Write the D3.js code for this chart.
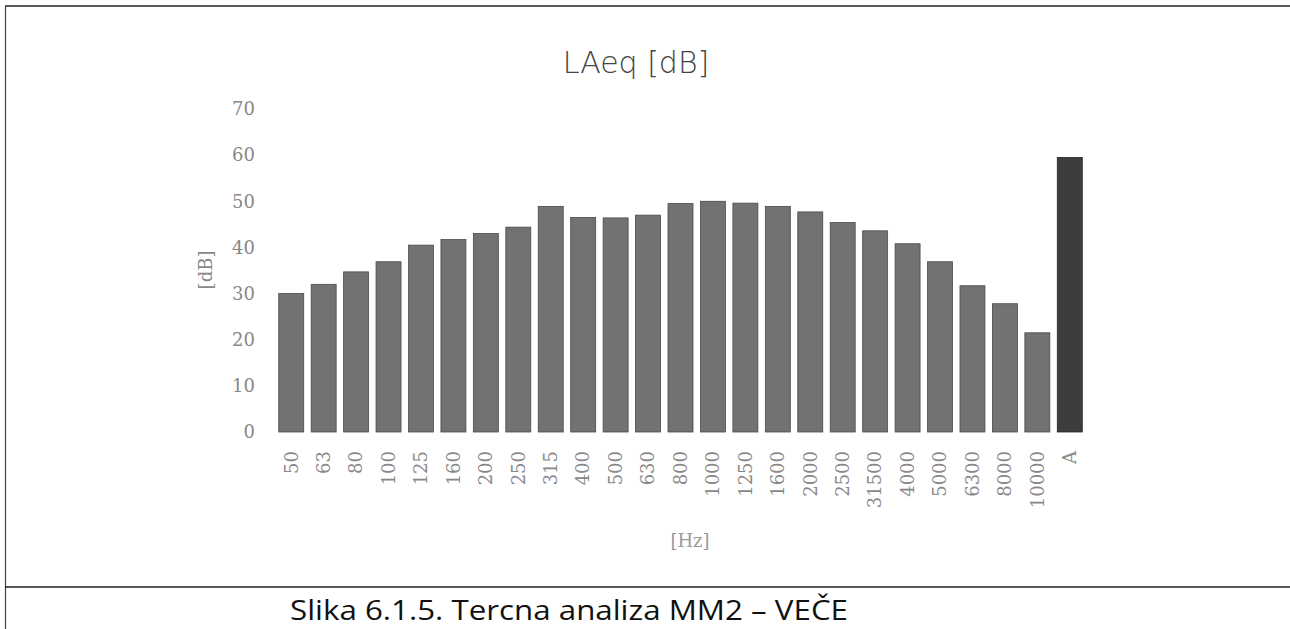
<!DOCTYPE html>
<html>
<head>
<meta charset="utf-8">
<script src="https://cdn.jsdelivr.net/npm/d3@7"></script>
<style>
  body { margin: 0; background: white; }
</style>
</head>
<body>
<div class="mainVis"></div>
<script>
var bands = ["50", "63", "80", "100", "125", "160", "200", "250", "315", "400", "500", "630",
    "800", "1000", "1250", "1600", "2000", "2500", "31500", "4000", "5000", "6300", "8000", "10000", "A"]
var levels = [30.0, 32.0, 34.7, 36.9, 40.5, 41.7, 43.0, 44.4, 48.9, 46.5, 46.4, 47.0,
    49.5, 50.0, 49.6, 48.9, 47.7, 45.4, 43.6, 40.8, 36.9, 31.7, 27.8, 21.5, 59.5]
var yTicks = [0, 10, 20, 30, 40, 50, 60, 70]

var width = 1290, height = 629

var canvas = d3.select(".mainVis")
    .append("svg")
    .attr("width", width)
    .attr("height", height)

// frame lines from the scanned page
canvas.append("line").attr("x1", 5).attr("x2", width).attr("y1", 6).attr("y2", 6)
    .attr("stroke", "#222").attr("stroke-width", 1.5)
canvas.append("line").attr("x1", 5.5).attr("x2", 5.5).attr("y1", 6).attr("y2", height)
    .attr("stroke", "#444").attr("stroke-width", 1.2)
canvas.append("line").attr("x1", 5).attr("x2", width).attr("y1", 587).attr("y2", 587)
    .attr("stroke", "#222").attr("stroke-width", 1.5)

var x = d3.scaleBand()
    .domain(bands)
    .range([275, 1086])
    .paddingInner(0.23)
    .paddingOuter(0.115)

var y = d3.scaleLinear()
    .domain([0, 70])
    .range([432, 109])

var labelFont = "'DejaVu Serif', serif"

canvas.append("text")
    .attr("x", 636)
    .attr("y", 73)
    .attr("text-anchor", "middle")
    .style("font-family", "'DejaVu Sans', sans-serif")
    .style("font-weight", "200")
    .style("font-size", "30px")
    .attr("fill", "#444")
    .text("LAeq [dB]")

var yAxis = canvas.append("g")
    .attr("transform", "translate(255,0)")
    .call(d3.axisLeft(y).tickValues(yTicks).tickSize(0).tickPadding(0))
yAxis.select(".domain").remove()
yAxis.selectAll("text")
    .style("font-family", labelFont)
    .style("font-size", "18px")
    .attr("fill", "#888")

var xAxis = canvas.append("g")
    .attr("transform", "translate(0,436)")
    .call(d3.axisBottom(x).tickSize(0).tickPadding(0))
xAxis.select(".domain").remove()
xAxis.selectAll("text")
    .attr("transform", "rotate(-90)")
    .attr("text-anchor", "end")
    .attr("x", -15)
    .attr("y", 0)
    .attr("dy", "0.35em")
    .style("font-family", labelFont)
    .style("font-size", "18px")
    .attr("fill", "#888")

canvas.append("text")
    .attr("transform", "translate(212,270) rotate(-90)")
    .attr("text-anchor", "middle")
    .style("font-family", labelFont)
    .style("font-size", "18px")
    .attr("fill", "#888")
    .text("[dB]")

canvas.append("text")
    .attr("x", 690)
    .attr("y", 547)
    .attr("text-anchor", "middle")
    .style("font-family", labelFont)
    .style("font-size", "18px")
    .attr("fill", "#999")
    .text("[Hz]")

canvas.selectAll(".bar")
    .data(bands)
    .enter()
    .append("rect")
    .attr("class", "bar")
    .attr("x", function(d) { return x(d); })
    .attr("width", x.bandwidth())
    .attr("y", function(d, i) { return y(levels[i]); })
    .attr("height", function(d, i) { return y(0) - y(levels[i]); })
    .attr("fill", function(d) { return d === "A" ? "#3d3d3d" : "#727272"; })
    .attr("stroke", function(d) { return d === "A" ? "#222" : "#4a4a4a"; })
    .attr("stroke-width", 0.8)

canvas.append("text")
    .attr("x", 290)
    .attr("y", 620)
    .attr("textLength", 558)
    .attr("lengthAdjust", "spacingAndGlyphs")
    .style("font-family", "'Open Sans', sans-serif")
    .style("font-size", "28px")
    .attr("fill", "#111")
    .text("Slika 6.1.5. Tercna analiza MM2 – VEČE")
</script>
</body>
</html>
